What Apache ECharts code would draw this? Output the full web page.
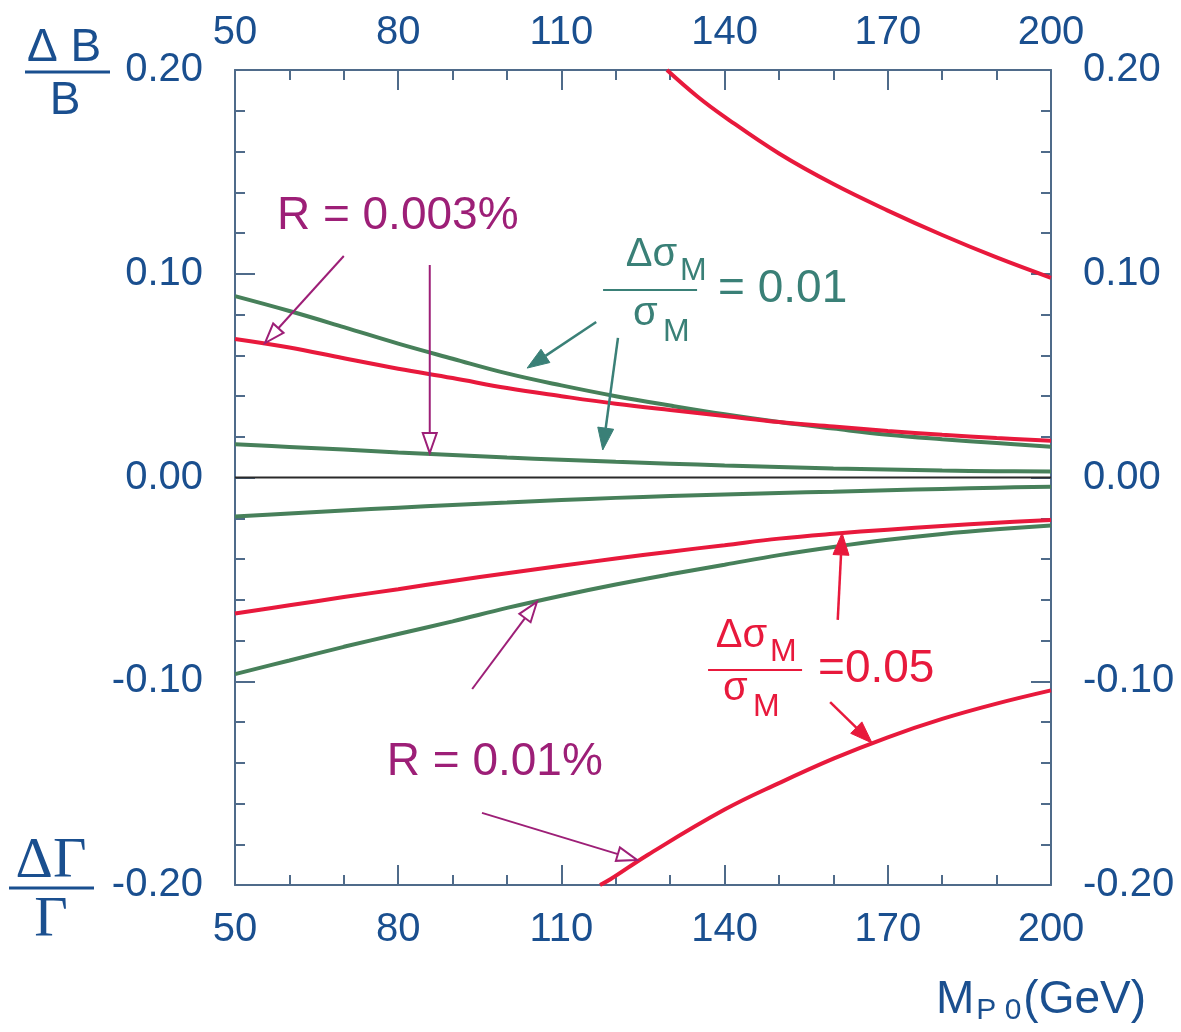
<!DOCTYPE html>
<html>
<head>
<meta charset="utf-8">
<script src="https://cdn.jsdelivr.net/npm/echarts@6/dist/echarts.min.js"></script>
<style>
  html, body { margin: 0; padding: 0; background: #ffffff; }
  #chart { width: 1181px; height: 1032px; }
</style>
</head>
<body>
<div id="chart"></div>
<script>
// Mass axis (GeV) and tick values
const massTicks = [50, 80, 110, 140, 170, 200];
const ratioTicks = [-0.20, -0.10, 0.00, 0.10, 0.20];

// Common mass grid for the inner curves
const massGrid = [50, 60, 70, 80, 90, 100, 110, 120, 130, 140, 150, 160, 170, 180, 190, 200];

// dσ/σ = 0.01 band (green)
const greenUpperOuter = [0.0890, 0.0817, 0.0738, 0.0657, 0.0583, 0.0511, 0.0452, 0.0399, 0.0353, 0.0310, 0.0272, 0.0240, 0.0210, 0.0188, 0.0169, 0.0151];
const greenUpperInner = [0.0163, 0.0150, 0.0137, 0.0123, 0.0110, 0.0098, 0.0087, 0.0077, 0.0068, 0.0059, 0.0051, 0.0044, 0.0039, 0.0034, 0.0031, 0.0029];
const greenLowerInner = [-0.0192, -0.0177, -0.0162, -0.0148, -0.0135, -0.0123, -0.0111, -0.0100, -0.0091, -0.0083, -0.0076, -0.0070, -0.0063, -0.0056, -0.0050, -0.0045];
const greenLowerOuter = [-0.0965, -0.0898, -0.0831, -0.0768, -0.0706, -0.0640, -0.0580, -0.0525, -0.0475, -0.0428, -0.0381, -0.0341, -0.0306, -0.0277, -0.0254, -0.0235];

// dσ/σ = 0.05 band (red), inner curves on the common grid
const redUpperInner = [0.0680, 0.0638, 0.0585, 0.0534, 0.0488, 0.0439, 0.0399, 0.0362, 0.0331, 0.0302, 0.0272, 0.0250, 0.0228, 0.0210, 0.0194, 0.0180];
const redLowerInner = [-0.0667, -0.0627, -0.0587, -0.0548, -0.0508, -0.0470, -0.0433, -0.0398, -0.0364, -0.0332, -0.0300, -0.0276, -0.0256, -0.0238, -0.0222, -0.0209];

// dσ/σ = 0.05 outer curves (leave the frame at ±0.20)
const redUpperOuterMass = [129.4, 135, 140, 150, 160, 170, 180, 190, 200];
const redUpperOuter = [0.200, 0.187, 0.177, 0.159, 0.144, 0.131, 0.119, 0.108, 0.098];
const redLowerOuterMass = [117.1, 119, 126, 140, 150, 160, 170, 180, 190, 200];
const redLowerOuter = [-0.200, -0.1972, -0.185, -0.163, -0.150, -0.138, -0.1275, -0.1185, -0.111, -0.1045];

// Reference line
const zeroMass = [50, 200];
const zeroLine = [0, 0];

const C = {
  axis: '#4f6b8a',
  label: '#1a4f8f',
  red: '#e8193c',
  green: '#47805a',
  teal: '#3a8077',
  magenta: '#9d1f77',
  zero: '#2a2a2a'
};
const SANS = '"Liberation Sans", Arial, sans-serif';
const SERIF = '"Liberation Serif", "Times New Roman", serif';

const pairs = (xs, ys) => xs.map((x, i) => [x, ys[i]]);

function curve(name, xs, ys, color, width) {
  return {
    name, type: 'line', data: pairs(xs, ys), showSymbol: false, smooth: 0.4,
    lineStyle: { color, width }, z: 3, silent: true, animation: false
  };
}

const fmtY = v => (Math.abs(v) < 1e-9 ? 0 : v).toFixed(2);

function xAxisDef(pos, margin) {
  return {
    type: 'value', position: pos, min: 50, max: 200, interval: 30,
    axisLine: { show: true, onZero: false, lineStyle: { color: C.axis, width: 2 } },
    axisTick: { show: true, inside: true, length: 20, lineStyle: { color: C.axis, width: 2 } },
    minorTick: { show: true, splitNumber: 3, length: 10, lineStyle: { color: C.axis, width: 2 } },
    splitLine: { show: false }, minorSplitLine: { show: false },
    axisLabel: { color: C.label, fontSize: 40, fontFamily: SANS, margin,
      formatter: v => String(massTicks.find(t => Math.abs(t - v) < 1e-6) ?? v) }
  };
}
function yAxisDef(pos) {
  return {
    type: 'value', position: pos, min: -0.2, max: 0.2, interval: 0.1,
    axisLine: { show: true, onZero: false, lineStyle: { color: C.axis, width: 2 } },
    axisTick: { show: true, inside: true, length: 20, lineStyle: { color: C.axis, width: 2 } },
    minorTick: { show: true, splitNumber: 5, length: 10, lineStyle: { color: C.axis, width: 2 } },
    splitLine: { show: false }, minorSplitLine: { show: false },
    axisLabel: { color: C.label, fontSize: 40, fontFamily: SANS, margin: 32, formatter: fmtY }
  };
}

const chart = echarts.init(document.getElementById('chart'), null, { renderer: 'canvas' });

chart.setOption({
  animation: false,
  backgroundColor: '#ffffff',
  grid: { left: 235, right: 130, top: 70, bottom: 147, containLabel: false },
  xAxis: [xAxisDef('bottom', 25), xAxisDef('top', 17)],
  yAxis: [yAxisDef('left'), yAxisDef('right')],
  series: [
    Object.assign(curve('zero', zeroMass, zeroLine, C.zero, 2), { z: 2, smooth: false }),
    curve('green upper outer', massGrid, greenUpperOuter, C.green, 4),
    curve('green upper inner', massGrid, greenUpperInner, C.green, 4),
    curve('green lower inner', massGrid, greenLowerInner, C.green, 4),
    curve('green lower outer', massGrid, greenLowerOuter, C.green, 4),
    curve('red upper inner', massGrid, redUpperInner, C.red, 4),
    curve('red lower inner', massGrid, redLowerInner, C.red, 4),
    curve('red upper outer', redUpperOuterMass, redUpperOuter, C.red, 4),
    curve('red lower outer', redLowerOuterMass, redLowerOuter, C.red, 4)
  ]
});

// ---- annotations placed in data coordinates ----
const toPx = p => chart.convertToPixel({ gridIndex: 0 }, p);
const els = [];

function text(str, x, y, color, size, opts) {
  els.push({
    type: 'text', z: 10, silent: true,
    style: Object.assign({
      text: str, x, y, fill: color, fontSize: size, fontFamily: SANS,
      textAlign: 'left', textVerticalAlign: 'middle'
    }, opts || {})
  });
}

function arrow(from, to, color, hollow, width) {
  const p0 = toPx(from), p1 = toPx(to);
  const dx = p1[0] - p0[0], dy = p1[1] - p0[1];
  const len = Math.hypot(dx, dy), ux = dx / len, uy = dy / len;
  const L = hollow ? 20 : 22, W = hollow ? 7 : 8;
  const b = [p1[0] - ux * L, p1[1] - uy * L];
  els.push({ type: 'line', z: 9, silent: true,
    shape: { x1: p0[0], y1: p0[1], x2: b[0], y2: b[1] },
    style: { stroke: color, lineWidth: width } });
  els.push({ type: 'polygon', z: 9, silent: true,
    shape: { points: [p1, [b[0] - uy * W, b[1] + ux * W], [b[0] + uy * W, b[1] - ux * W]] },
    style: hollow ? { fill: 'none', stroke: color, lineWidth: width } : { fill: color, stroke: color, lineWidth: 1 } });
}

// Δσ_M / σ_M fraction label; o holds the layout offsets around the bar centre
function fraction(anchor, color, value, o) {
  const [cx, cy] = toPx(anchor);
  text('Δσ', cx + o.numR, cy + o.numY, color, 40, { textAlign: 'right' });
  text('M', cx + o.numR + 3, cy + o.numY + 16, color, 32);
  els.push({ type: 'line', z: 10, silent: true,
    shape: { x1: cx - 47, y1: cy, x2: cx + 47, y2: cy },
    style: { stroke: color, lineWidth: 2 } });
  text('σ', cx + o.denL, cy + o.denY, color, 40);
  text('M', cx + o.denL + 30, cy + o.denY + 18, color, 32);
  text(value, cx + o.valL, cy - 1, color, 46);
}

function drawAnnotations() {
  els.length = 0;

  // R = 0.003 %
  const r1 = toPx([57.7, 0.128]);
  text('R = 0.003%', r1[0], r1[1], C.magenta, 46);
  arrow([70.0, 0.1087], [55.5, 0.0660], C.magenta, true, 2);
  arrow([85.8, 0.1043], [85.8, 0.0120], C.magenta, true, 2);

  // R = 0.01 %
  const r2 = toPx([77.9, -0.1396]);
  text('R = 0.01%', r2[0], r2[1], C.magenta, 46);
  arrow([93.6, -0.1038], [105.5, -0.0611], C.magenta, true, 2);
  arrow([95.4, -0.1646], [123.9, -0.1877], C.magenta, true, 2);

  // Δσ/σ = 0.01
  fraction([126.3, 0.0920], C.teal, '= 0.01', { numR: 27, numY: -35, denL: -17, denY: 24, valL: 68 });
  arrow([116.4, 0.0763], [103.7, 0.0537], C.teal, false, 2.5);
  arrow([120.4, 0.0685], [117.6, 0.0135], C.teal, false, 2.5);

  // Δσ/σ = 0.05
  fraction([145.6, -0.0945], C.red, '=0.05', { numR: 12, numY: -34, denL: -32, denY: 19, valL: 63 });
  arrow([160.8, -0.0699], [161.6, -0.0272], C.red, false, 2.5);
  arrow([159.4, -0.1102], [167.1, -0.1303], C.red, false, 2.5);

  // Axis titles: ΔB/B (top left), ΔΓ/Γ (bottom left), M_P0 (GeV)
  text('Δ B', 64, 48, C.label, 46, { textAlign: 'center' });
  els.push({ type: 'line', z: 10, silent: true, shape: { x1: 25, y1: 72, x2: 110, y2: 72 },
    style: { stroke: C.label, lineWidth: 3 } });
  text('B', 65, 101, C.label, 46, { textAlign: 'center' });

  text('ΔΓ', 51, 862, C.label, 58, { textAlign: 'center', fontFamily: SERIF });
  els.push({ type: 'line', z: 10, silent: true, shape: { x1: 9, y1: 888, x2: 94, y2: 888 },
    style: { stroke: C.label, lineWidth: 3 } });
  text('Γ', 51, 921, C.label, 58, { textAlign: 'center', fontFamily: SERIF });

  els.push({
    type: 'text', z: 10, silent: true,
    style: {
      x: 936, y: 1000, textVerticalAlign: 'middle', textAlign: 'left',
      text: '{m|M}{s|P 0}{m|(GeV)}',
      rich: {
        m: { fontSize: 46, fontFamily: SANS, fill: C.label, verticalAlign: 'middle' },
        s: { fontSize: 30, fontFamily: SANS, fill: C.label, padding: [22, 2, 0, 2] }
      }
    }
  });

  chart.setOption({ graphic: { elements: els } }, { replaceMerge: ['graphic'] });
}

drawAnnotations();
</script>
</body>
</html>
